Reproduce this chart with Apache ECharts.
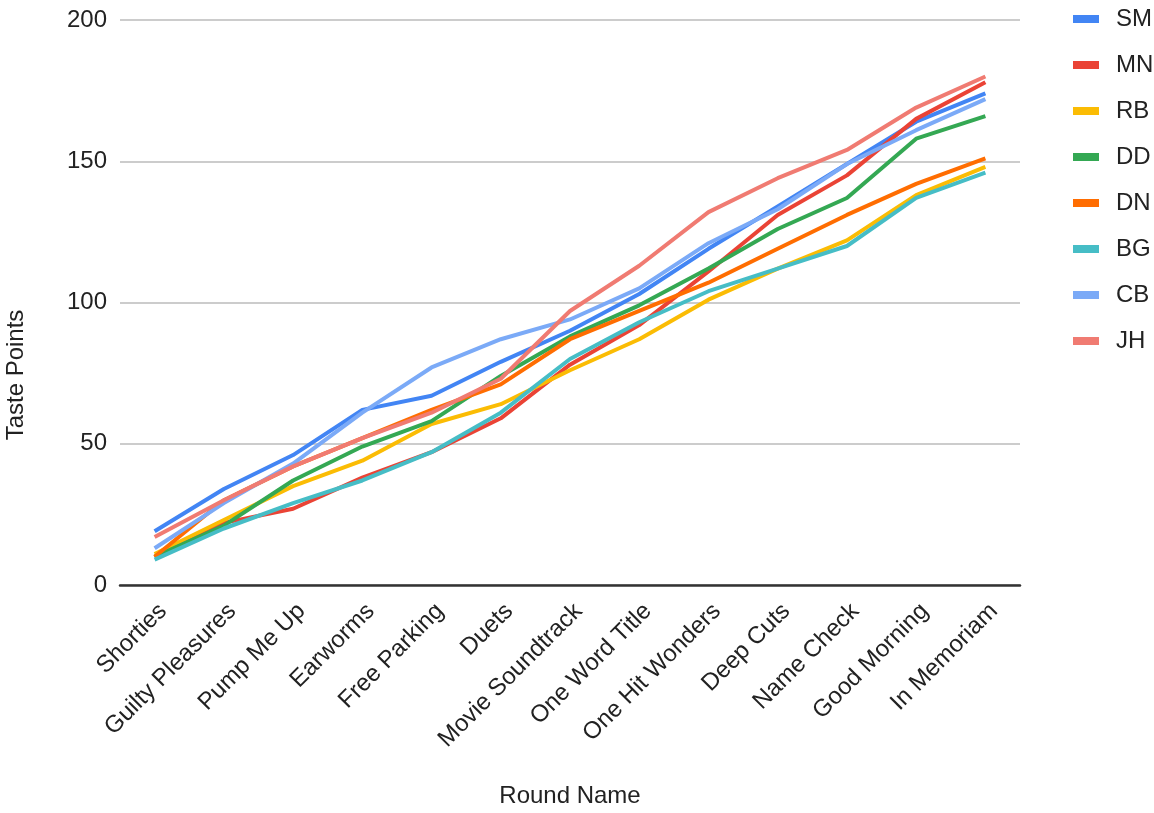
<!DOCTYPE html>
<html>
<head>
<meta charset="utf-8">
<script src="https://cdn.jsdelivr.net/npm/echarts@6/dist/echarts.min.js"></script>
<style>
  html, body { margin: 0; padding: 0; background: #fff; }
  #chart { width: 1154px; height: 813px; }
</style>
</head>
<body>
<div id="chart"></div>
<script>
// Round names along the x axis
const rounds = ['Shorties', 'Guilty Pleasures', 'Pump Me Up', 'Earworms', 'Free Parking', 'Duets',
  'Movie Soundtrack', 'One Word Title', 'One Hit Wonders', 'Deep Cuts', 'Name Check', 'Good Morning', 'In Memoriam'];

// Cumulative taste points per player
const SM = [19, 34, 46, 62, 67, 79, 90, 103, 119, 134, 149, 164, 174];
const MN = [10, 22, 27, 38, 47, 59, 78, 92, 111, 131, 145, 165, 178];
const RB = [11, 23, 35, 44, 57, 64, 76, 87, 101, 112, 122, 138, 148];
const DD = [10, 21, 37, 49, 58, 74, 88, 99, 112, 126, 137, 158, 166];
const DN = [10, 30, 42, 52, 62, 71, 87, 97, 107, 119, 131, 142, 151];
const BG = [9, 20, 29, 37, 47, 61, 80, 93, 104, 112, 120, 137, 146];
const CB = [13, 29, 43, 61, 77, 87, 94, 105, 121, 133, 149, 161, 172];
const JH = [17, 30, 42, 52, 61, 73, 97, 113, 132, 144, 154, 169, 180];

const players = ['SM', 'MN', 'RB', 'DD', 'DN', 'BG', 'CB', 'JH'];
const playerData = [SM, MN, RB, DD, DN, BG, CB, JH];
const colors = ['#4285F4', '#EA4335', '#FBBC04', '#34A853', '#FF6D01', '#46BDC6', '#7BAAF7', '#F07B72'];

const FONT = '"Liberation Sans", Arial, sans-serif';
const chart = echarts.init(document.getElementById('chart'));

chart.setOption({
  backgroundColor: '#ffffff',
  color: colors,
  animation: false,
  textStyle: { fontFamily: FONT },
  grid: { left: 120, right: 134, top: 20, bottom: 228, containLabel: false },
  legend: {
    orient: 'vertical',
    left: 1068,
    top: 2,
    icon: 'rect',
    itemWidth: 26,
    itemHeight: 8,
    itemGap: 22,
    data: players,
    textStyle: { fontFamily: FONT, fontSize: 24, color: '#222', padding: [0, 0, 0, 12] }
  },
  xAxis: {
    type: 'category',
    data: rounds,
    boundaryGap: true,
    axisTick: { show: false },
    axisLine: { lineStyle: { color: '#333', width: 2.5 } },
    axisLabel: { rotate: 45, margin: 14, verticalAlign: 'top', fontSize: 24, color: '#222', fontFamily: FONT, interval: 0 }
  },
  yAxis: {
    type: 'value',
    min: 0,
    max: 200,
    interval: 50,
    axisLine: { show: false },
    axisTick: { show: false },
    axisLabel: { margin: 13, fontSize: 24, color: '#222', fontFamily: FONT },
    splitLine: { lineStyle: { color: '#cccccc', width: 2 } }
  },
  graphic: [
    {
      type: 'text',
      x: 16, y: 375,
      rotation: Math.PI / 2,
      style: { text: 'Taste Points', fontSize: 24, fontFamily: FONT, fill: '#222', align: 'center', verticalAlign: 'middle' }
    },
    {
      type: 'text',
      x: 570, y: 796,
      style: { text: 'Round Name', fontSize: 24, fontFamily: FONT, fill: '#222', align: 'center', verticalAlign: 'middle' }
    }
  ],
  series: players.map((name, i) => ({
    name: name,
    type: 'line',
    data: playerData[i],
    showSymbol: false,
    symbol: 'none',
    lineStyle: { width: 4, color: colors[i] },
    emphasis: { disabled: true }
  }))
});
</script>
</body>
</html>
